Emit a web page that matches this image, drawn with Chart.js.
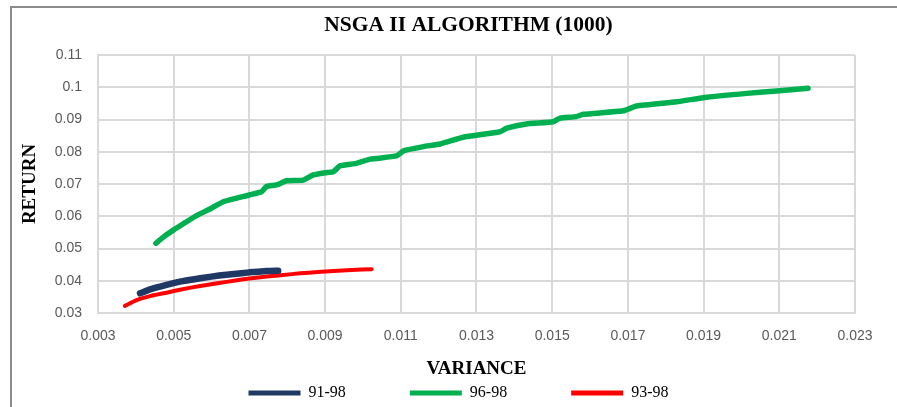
<!DOCTYPE html>
<html>
<head>
<meta charset="utf-8">
<script src="https://cdn.jsdelivr.net/npm/chart.js@4"></script>
<style>
  html, body { margin: 0; padding: 0; background: #fff; overflow: hidden; }
  #wrap { position: relative; width: 897px; height: 407px; overflow: hidden; }
  #frame { position: absolute; left: 10px; top: 6px; width: 900px; height: 420px;
           border-left: 2px solid #8c8c8c; border-top: 2px solid #8c8c8c; box-sizing: border-box; }
  canvas { position: absolute; left: 0; top: 0; }
</style>
</head>
<body>
<div id="wrap">
  <div id="frame"></div>
  <canvas id="chart" width="897" height="411"></canvas>
</div>
<script>
// tick values
const xTicks = [0.003, 0.005, 0.007, 0.009, 0.011, 0.013, 0.015, 0.017, 0.019, 0.021, 0.023];
const yTicks = [0.03, 0.04, 0.05, 0.06, 0.07, 0.08, 0.09, 0.1, 0.11];

// 91-98
const x9198 = [0.00411, 0.0044, 0.00481, 0.0052, 0.0057, 0.0062, 0.00659, 0.0070, 0.00746, 0.00776];
const y9198 = [0.0361, 0.0374, 0.0387, 0.0398, 0.0408, 0.0416, 0.0421, 0.0426, 0.0430, 0.0431];

// 96-98
const x9698 = [0.00453, 0.0047, 0.00499, 0.0053, 0.0056, 0.0060, 0.00631, 0.0070, 0.00732, 0.00745,
               0.00772, 0.00798, 0.00842, 0.00869, 0.0090, 0.00922, 0.00939, 0.00983, 0.01019, 0.01089,
               0.01107, 0.0116, 0.01204, 0.01265, 0.01362, 0.0138, 0.01432, 0.01503, 0.0152, 0.01564,
               0.01582, 0.01688, 0.01723, 0.01829, 0.01908, 0.02014, 0.02101, 0.02176];
const y9698 = [0.0516, 0.0533, 0.0557, 0.0580, 0.0602, 0.0625, 0.0645, 0.0666, 0.0676, 0.0692,
               0.0697, 0.0710, 0.0712, 0.0728, 0.0735, 0.0738, 0.0756, 0.0764, 0.0777, 0.0787,
               0.0803, 0.0816, 0.0824, 0.0845, 0.0862, 0.0873, 0.0886, 0.0893, 0.0904, 0.0909,
               0.0916, 0.0927, 0.0942, 0.0955, 0.0969, 0.0981, 0.0989, 0.0997];

// 93-98
const x9398 = [0.00371, 0.00402, 0.0044, 0.00481, 0.0052, 0.0057, 0.0062, 0.00659, 0.0070, 0.00746,
               0.0079, 0.00834, 0.0088, 0.00922, 0.0097, 0.01023];
const y9398 = [0.0322, 0.0340, 0.0353, 0.0363, 0.0373, 0.0384, 0.0393, 0.0400, 0.0407, 0.0413,
               0.0418, 0.0423, 0.0427, 0.0430, 0.0433, 0.0436];

function toPoints(xs, ys) {
    return xs.map((x, i) => ({ x: x, y: ys[i] }));
}

function series(label, xs, ys, color, width) {
    return {
        label: label,
        data: toPoints(xs, ys),
        showLine: true,
        borderColor: color,
        backgroundColor: color,
        borderWidth: width,
        borderCapStyle: 'round',
        borderJoinStyle: 'round',
        pointRadius: 0,
        tension: 0.15
    };
}

const serif = "'Liberation Serif', 'Times New Roman', serif";
const sans = "'Liberation Sans', Arial, sans-serif";

// trailing blanks only widen the legend items / nudge the centred title
const legendGap = ['\u2003\u2002', '\u2003\u2002', '\u2003\u2003 '];

const ctx = document.getElementById('chart').getContext('2d');
new Chart(ctx, {
    type: 'scatter',
    data: {
        datasets: [
            series('91-98', x9198, y9198, '#203864', 6.5),
            series('96-98', x9698, y9698, '#00B050', 5.5),
            series('93-98', x9398, y9398, '#FF0000', 4)
        ]
    },
    options: {
        responsive: false,
        animation: false,
        layout: { padding: { left: 12, right: 42, top: 0, bottom: 0 } },
        plugins: {
            title: {
                display: true,
                fullSize: false,
                text: 'NSGA II ALGORITHM (1000)\u2002 ',
                color: '#000',
                font: { family: serif, size: 21.5, weight: 'bold' },
                padding: { top: 13, bottom: 16.2 }
            },
            legend: {
                position: 'bottom',
                fullSize: false,
                labels: {
                    color: '#000',
                    font: { family: serif, size: 16 },
                    boxWidth: 52,
                    boxHeight: 5,
                    padding: 40,
                    generateLabels: chart => chart.data.datasets.map((ds, i) => ({
                        text: ds.label + legendGap[i],
                        fillStyle: ds.borderColor,
                        strokeStyle: ds.borderColor,
                        lineWidth: 0,
                        datasetIndex: i,
                        fontColor: '#000'
                    }))
                }
            },
            tooltip: { enabled: false }
        },
        scales: {
            x: {
                type: 'linear',
                min: 0.003,
                max: 0.023,
                afterBuildTicks: axis => { axis.ticks = xTicks.map(v => ({ value: v })); },
                afterFit: axis => { axis.height = 32; },
                ticks: {
                    color: '#595959',
                    font: { family: sans, size: 14 },
                    padding: 15,
                    maxRotation: 0,
                    callback: v => String(+v.toFixed(3))
                },
                grid: { color: '#D9D9D9', lineWidth: 2, drawTicks: false },
                border: { color: '#D9D9D9', width: 2 },
                title: {
                    display: true,
                    text: 'VARIANCE',
                    color: '#000',
                    font: { family: serif, size: 19, weight: 'bold' },
                    padding: { top: 0, bottom: -35 }
                }
            },
            y: {
                type: 'linear',
                min: 0.03,
                max: 0.11,
                afterBuildTicks: axis => { axis.ticks = yTicks.map(v => ({ value: v })); },
                afterFit: axis => { axis.width = 86; },
                ticks: {
                    color: '#595959',
                    font: { family: sans, size: 14 },
                    padding: 16,
                    callback: v => String(+v.toFixed(2))
                },
                grid: { color: '#D9D9D9', lineWidth: 2, drawTicks: false },
                border: { color: '#D9D9D9', width: 2 },
                title: {
                    display: true,
                    text: 'RETURN',
                    color: '#000',
                    font: { family: serif, size: 19, weight: 'bold' },
                    padding: { top: 7, bottom: 0 }
                }
            }
        }
    }
});
</script>
</body>
</html>
